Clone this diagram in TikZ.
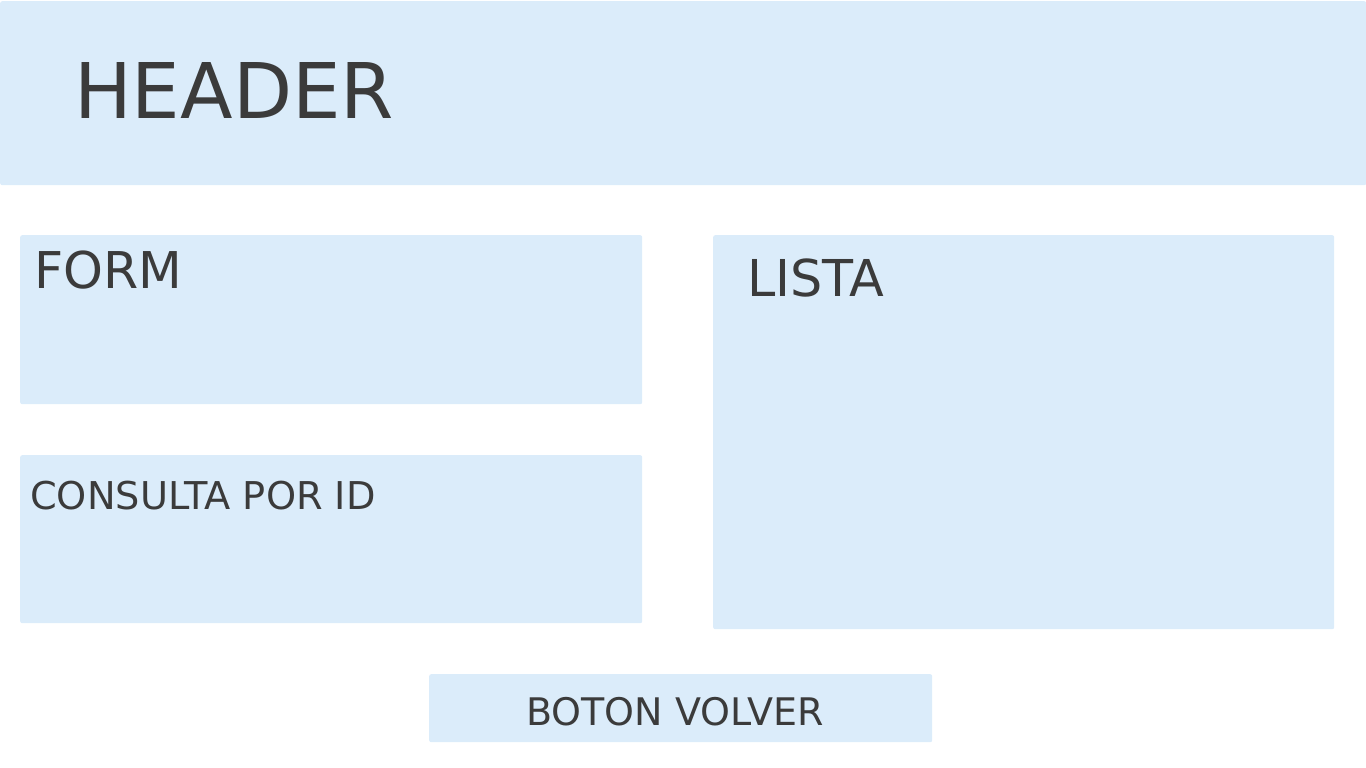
\documentclass[tikz,border=0pt]{standalone}
\usepackage{fontspec}
\setmainfont{DejaVu Sans}
\definecolor{boxblue}{HTML}{DBECFA}
\definecolor{txt}{HTML}{3B3B3B}
\tikzset{
  panel/.style={fill=boxblue, draw=none, rounded corners=2pt, inner sep=0pt, anchor=north west},
  lbl/.style={text=txt, inner sep=0pt, anchor=base west}
}
\begin{document}
\begin{tikzpicture}[x=1pt,y=-1pt]
\useasboundingbox (0,0) rectangle (1366,768);
\node[panel, minimum width=1366pt, minimum height=184pt] (header) at (0,1) {};
\node[panel, minimum width=622pt, minimum height=169pt] (form) at (20,235) {};
\node[panel, minimum width=622pt, minimum height=168pt] (consulta) at (20,455) {};
\node[panel, minimum width=621pt, minimum height=394pt] (lista) at (713,235) {};
\node[panel, minimum width=503pt, minimum height=68pt] (boton) at (429,674) {};
\node[lbl, font=\fontsize{76.8}{90}\selectfont] (th) at (74,118) {HEADER};
\node[lbl, font=\fontsize{50.7}{60}\selectfont] (tf) at (34,288) {FORM};
\node[lbl, font=\fontsize{38.3}{46}\selectfont] (tc) at (30,509) {CONSULTA POR ID};
\node[lbl, font=\fontsize{50.8}{60}\selectfont] (tl) at (747,296) {LISTA};
\node[lbl, font=\fontsize{38}{46}\selectfont] (tb) at (526,725) {BOTON VOLVER};
\end{tikzpicture}
\end{document}
